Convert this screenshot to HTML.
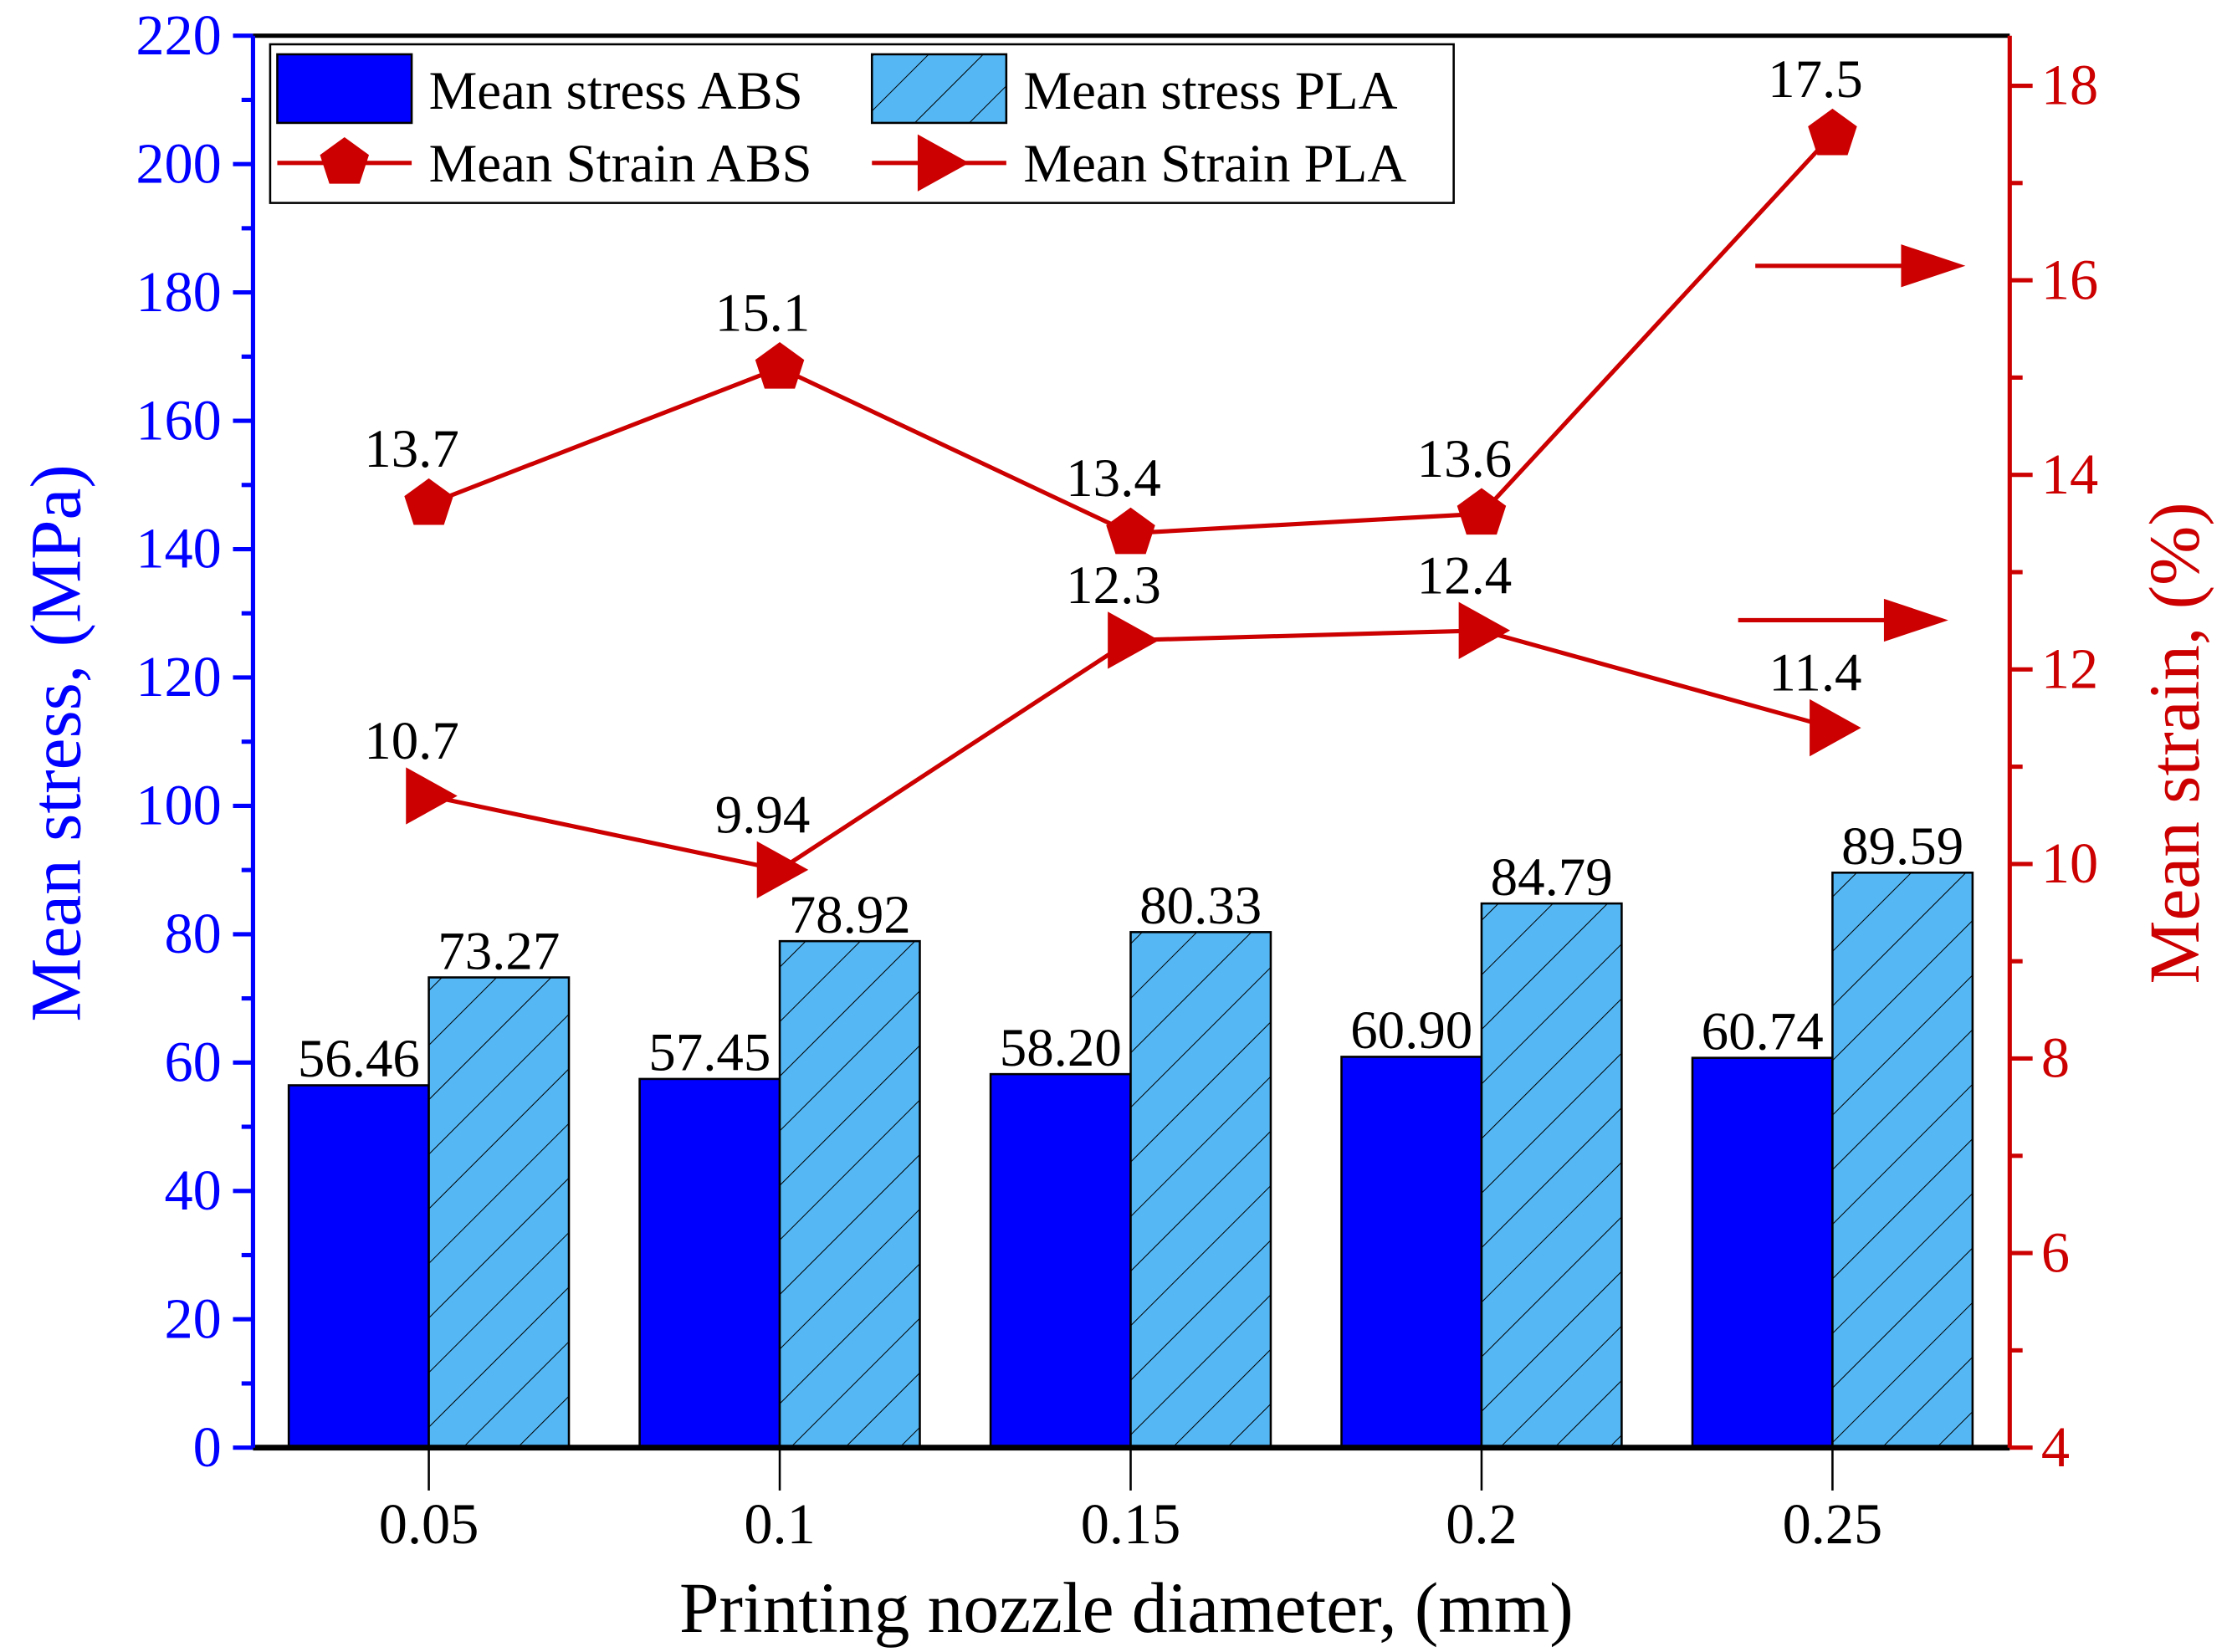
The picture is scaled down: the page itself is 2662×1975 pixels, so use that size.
<!DOCTYPE html>
<html><head><meta charset="utf-8"><style>
html,body{margin:0;padding:0;background:#fff;font-family:"Liberation Serif","DejaVu Serif",serif;}
svg{display:block;}
svg text{font-family:"Liberation Serif","DejaVu Serif",serif;}
</style></head><body>
<svg id="chart" width="2662" height="1975" viewBox="0 0 1558 1156" preserveAspectRatio="none" xmlns="http://www.w3.org/2000/svg">
<defs>
<pattern id="hatch" patternUnits="userSpaceOnUse" width="27" height="27" patternTransform="rotate(45)">
<rect width="27" height="27" fill="#55b8f5"/>
<line x1="0" y1="0" x2="0" y2="27" stroke="#000" stroke-width="1.2"/>
</pattern>
</defs>
<g id="plot"></g>
</svg>
<script>
const categories = ["0.05","0.1","0.15","0.2","0.25"];
const stressABS = [56.46,57.45,58.20,60.90,60.74];
const stressPLA = [73.27,78.92,80.33,84.79,89.59];
const strainABS = [13.7,15.1,13.4,13.6,17.5];
const strainPLA = [10.7,9.94,12.3,12.4,11.4];
const stressABSLabels = ["56.46","57.45","58.20","60.90","60.74"];
const stressPLALabels = ["73.27","78.92","80.33","84.79","89.59"];
const strainABSLabels = ["13.7","15.1","13.4","13.6","17.5"];
const strainPLALabels = ["10.7","9.94","12.3","12.4","11.4"];
const leftTicks = [0,20,40,60,80,100,120,140,160,180,200,220];
const rightTicks = [4,6,8,10,12,14,16,18];

const NS="http://www.w3.org/2000/svg";
const g=document.getElementById('plot');
const L=177,R=1406,T=25,B=1013;
const yL=v=>B-(v/220)*(B-T);
const yR=v=>B-((v-4)/14)*(1013-60);
const xC=i=>300+i*245.5;
const BW=98;
function el(tag,attrs,txt){const e=document.createElementNS(NS,tag);for(const k in attrs)e.setAttribute(k,attrs[k]);if(txt!==undefined)e.textContent=txt;g.appendChild(e);return e;}

// bars
categories.forEach((c,i)=>{
  let b=el('rect',{x:xC(i)-BW,y:yL(stressABS[i]),width:BW,height:B-yL(stressABS[i]),fill:'#0000ff',stroke:'#000','stroke-width':1.5});
  
  
  let p=el('rect',{x:xC(i),y:yL(stressPLA[i]),width:BW,height:B-yL(stressPLA[i]),fill:'url(#hatch)',stroke:'#000','stroke-width':1.5});
  
  
  let t1=el('text',{x:xC(i)-BW/2,y:yL(stressABS[i])-6,'font-size':38,'text-anchor':'middle'},stressABSLabels[i]);
  
  
  let t2=el('text',{x:xC(i)+BW/2,y:yL(stressPLA[i])-6,'font-size':38,'text-anchor':'middle'},stressPLALabels[i]);
  
  
});

// lines
function pts(arr){return arr.map((v,i)=>xC(i)+','+yR(v)).join(' ');}
let la=el('polyline',{points:pts(strainABS),fill:'none',stroke:'#cc0000','stroke-width':3});


let lp=el('polyline',{points:pts(strainPLA),fill:'none',stroke:'#cc0000','stroke-width':3});


function pent(cx,cy,r){let s=[];for(let k=0;k<5;k++){const a=-Math.PI/2+k*2*Math.PI/5;s.push((cx+r*Math.cos(a))+','+(cy+r*Math.sin(a)));}return s.join(' ');}
function tri(cx,cy,w,h){return (cx-w/2)+','+(cy-h/2)+' '+(cx+w/2)+','+cy+' '+(cx-w/2)+','+(cy+h/2);}
categories.forEach((c,i)=>{
  let m=el('polygon',{points:pent(xC(i),yR(strainABS[i]),18),fill:'#cc0000'});
  
  
  let n=el('polygon',{points:tri(xC(i)+2,yR(strainPLA[i]),36,40),fill:'#cc0000'});
  
  
  let t=el('text',{x:xC(i)-12,y:yR(strainABS[i])-26,'font-size':38,'text-anchor':'middle'},strainABSLabels[i]);
  
  
  let u=el('text',{x:xC(i)-12,y:yR(strainPLA[i])-26,'font-size':38,'text-anchor':'middle'},strainPLALabels[i]);
  
  
});

// axes
let ax=el('line',{x1:L,y1:T,x2:R,y2:T,stroke:'#000','stroke-width':3});

let bx=el('line',{x1:L,y1:B,x2:R,y2:B,stroke:'#000','stroke-width':4});

let lyx=el('line',{x1:L,y1:T,x2:L,y2:B,stroke:'#0000ff','stroke-width':3});

let ryx=el('line',{x1:R,y1:T,x2:R,y2:B,stroke:'#cc0000','stroke-width':3});


leftTicks.forEach(v=>{
  el('line',{x1:L-14,y1:yL(v),x2:L,y2:yL(v),stroke:'#0000ff','stroke-width':3});
  if(v<220) el('line',{x1:L-8,y1:yL(v+10),x2:L,y2:yL(v+10),stroke:'#0000ff','stroke-width':3});
  let t=el('text',{x:L-22,y:yL(v)+13,'font-size':40,fill:'#0000ff','text-anchor':'end'},String(v));
  
  
});
rightTicks.forEach(v=>{
  el('line',{x1:R,y1:yR(v),x2:R+16,y2:yR(v),stroke:'#cc0000','stroke-width':3});
  if(v<18) el('line',{x1:R,y1:yR(v+1),x2:R+9,y2:yR(v+1),stroke:'#cc0000','stroke-width':3});
  let t=el('text',{x:R+22,y:yR(v)+13,'font-size':40,fill:'#cc0000'},String(v));
  
  
});
categories.forEach((c,i)=>{
  el('line',{x1:xC(i),y1:B,x2:xC(i),y2:B+30,stroke:'#000','stroke-width':1.5});
  let t=el('text',{x:xC(i),y:1080,'font-size':40,'text-anchor':'middle'},c);
  
  
});
let xt=el('text',{x:788,y:1142,'font-size':50,'text-anchor':'middle'},'Printing nozzle diameter, (mm)');

let yt=el('text',{x:0,y:0,'font-size':50,fill:'#0000ff','text-anchor':'middle',transform:'translate(56,520) rotate(-90)'},'Mean stress, (MPa)');

let ry=el('text',{x:0,y:0,'font-size':50,fill:'#cc0000','text-anchor':'middle',transform:'translate(1538,520) rotate(-90)'},'Mean strain, (%)');


// stray arrows
[[1228,1375,186],[1216,1363,434]].forEach((a,k)=>{
  el('line',{x1:a[0],y1:a[2],x2:a[1]-40,y2:a[2],stroke:'#cc0000','stroke-width':3});
  let p=el('polygon',{points:(a[1]-45)+','+(a[2]-15)+' '+a[1]+','+a[2]+' '+(a[1]-45)+','+(a[2]+15),fill:'#cc0000'});
  
  
});

// legend
let lb=el('rect',{x:189,y:31,width:828,height:111,fill:'#fff',stroke:'#000','stroke-width':1.5});

el('rect',{x:194,y:38,width:94,height:48,fill:'#0000ff',stroke:'#000','stroke-width':1.5});
el('rect',{x:610,y:38,width:94,height:48,fill:'url(#hatch)',stroke:'#000','stroke-width':1.5});
el('line',{x1:194,y1:114,x2:288,y2:114,stroke:'#cc0000','stroke-width':3});
el('polygon',{points:pent(241,114,18),fill:'#cc0000'});
el('line',{x1:610,y1:114,x2:704,y2:114,stroke:'#cc0000','stroke-width':3});
el('polygon',{points:tri(660,114,36,40),fill:'#cc0000'});
[['Mean stress ABS',300,76,'legend-entry-stress-abs'],['Mean stress PLA',716,76,'legend-entry-stress-pla'],['Mean Strain ABS',300,127,'legend-entry-strain-abs'],['Mean Strain PLA',716,127,'legend-entry-strain-pla']].forEach(d=>{
  let t=el('text',{x:d[1],y:d[2],'font-size':38},d[0]);
  
  
});
</script>
</body></html>
